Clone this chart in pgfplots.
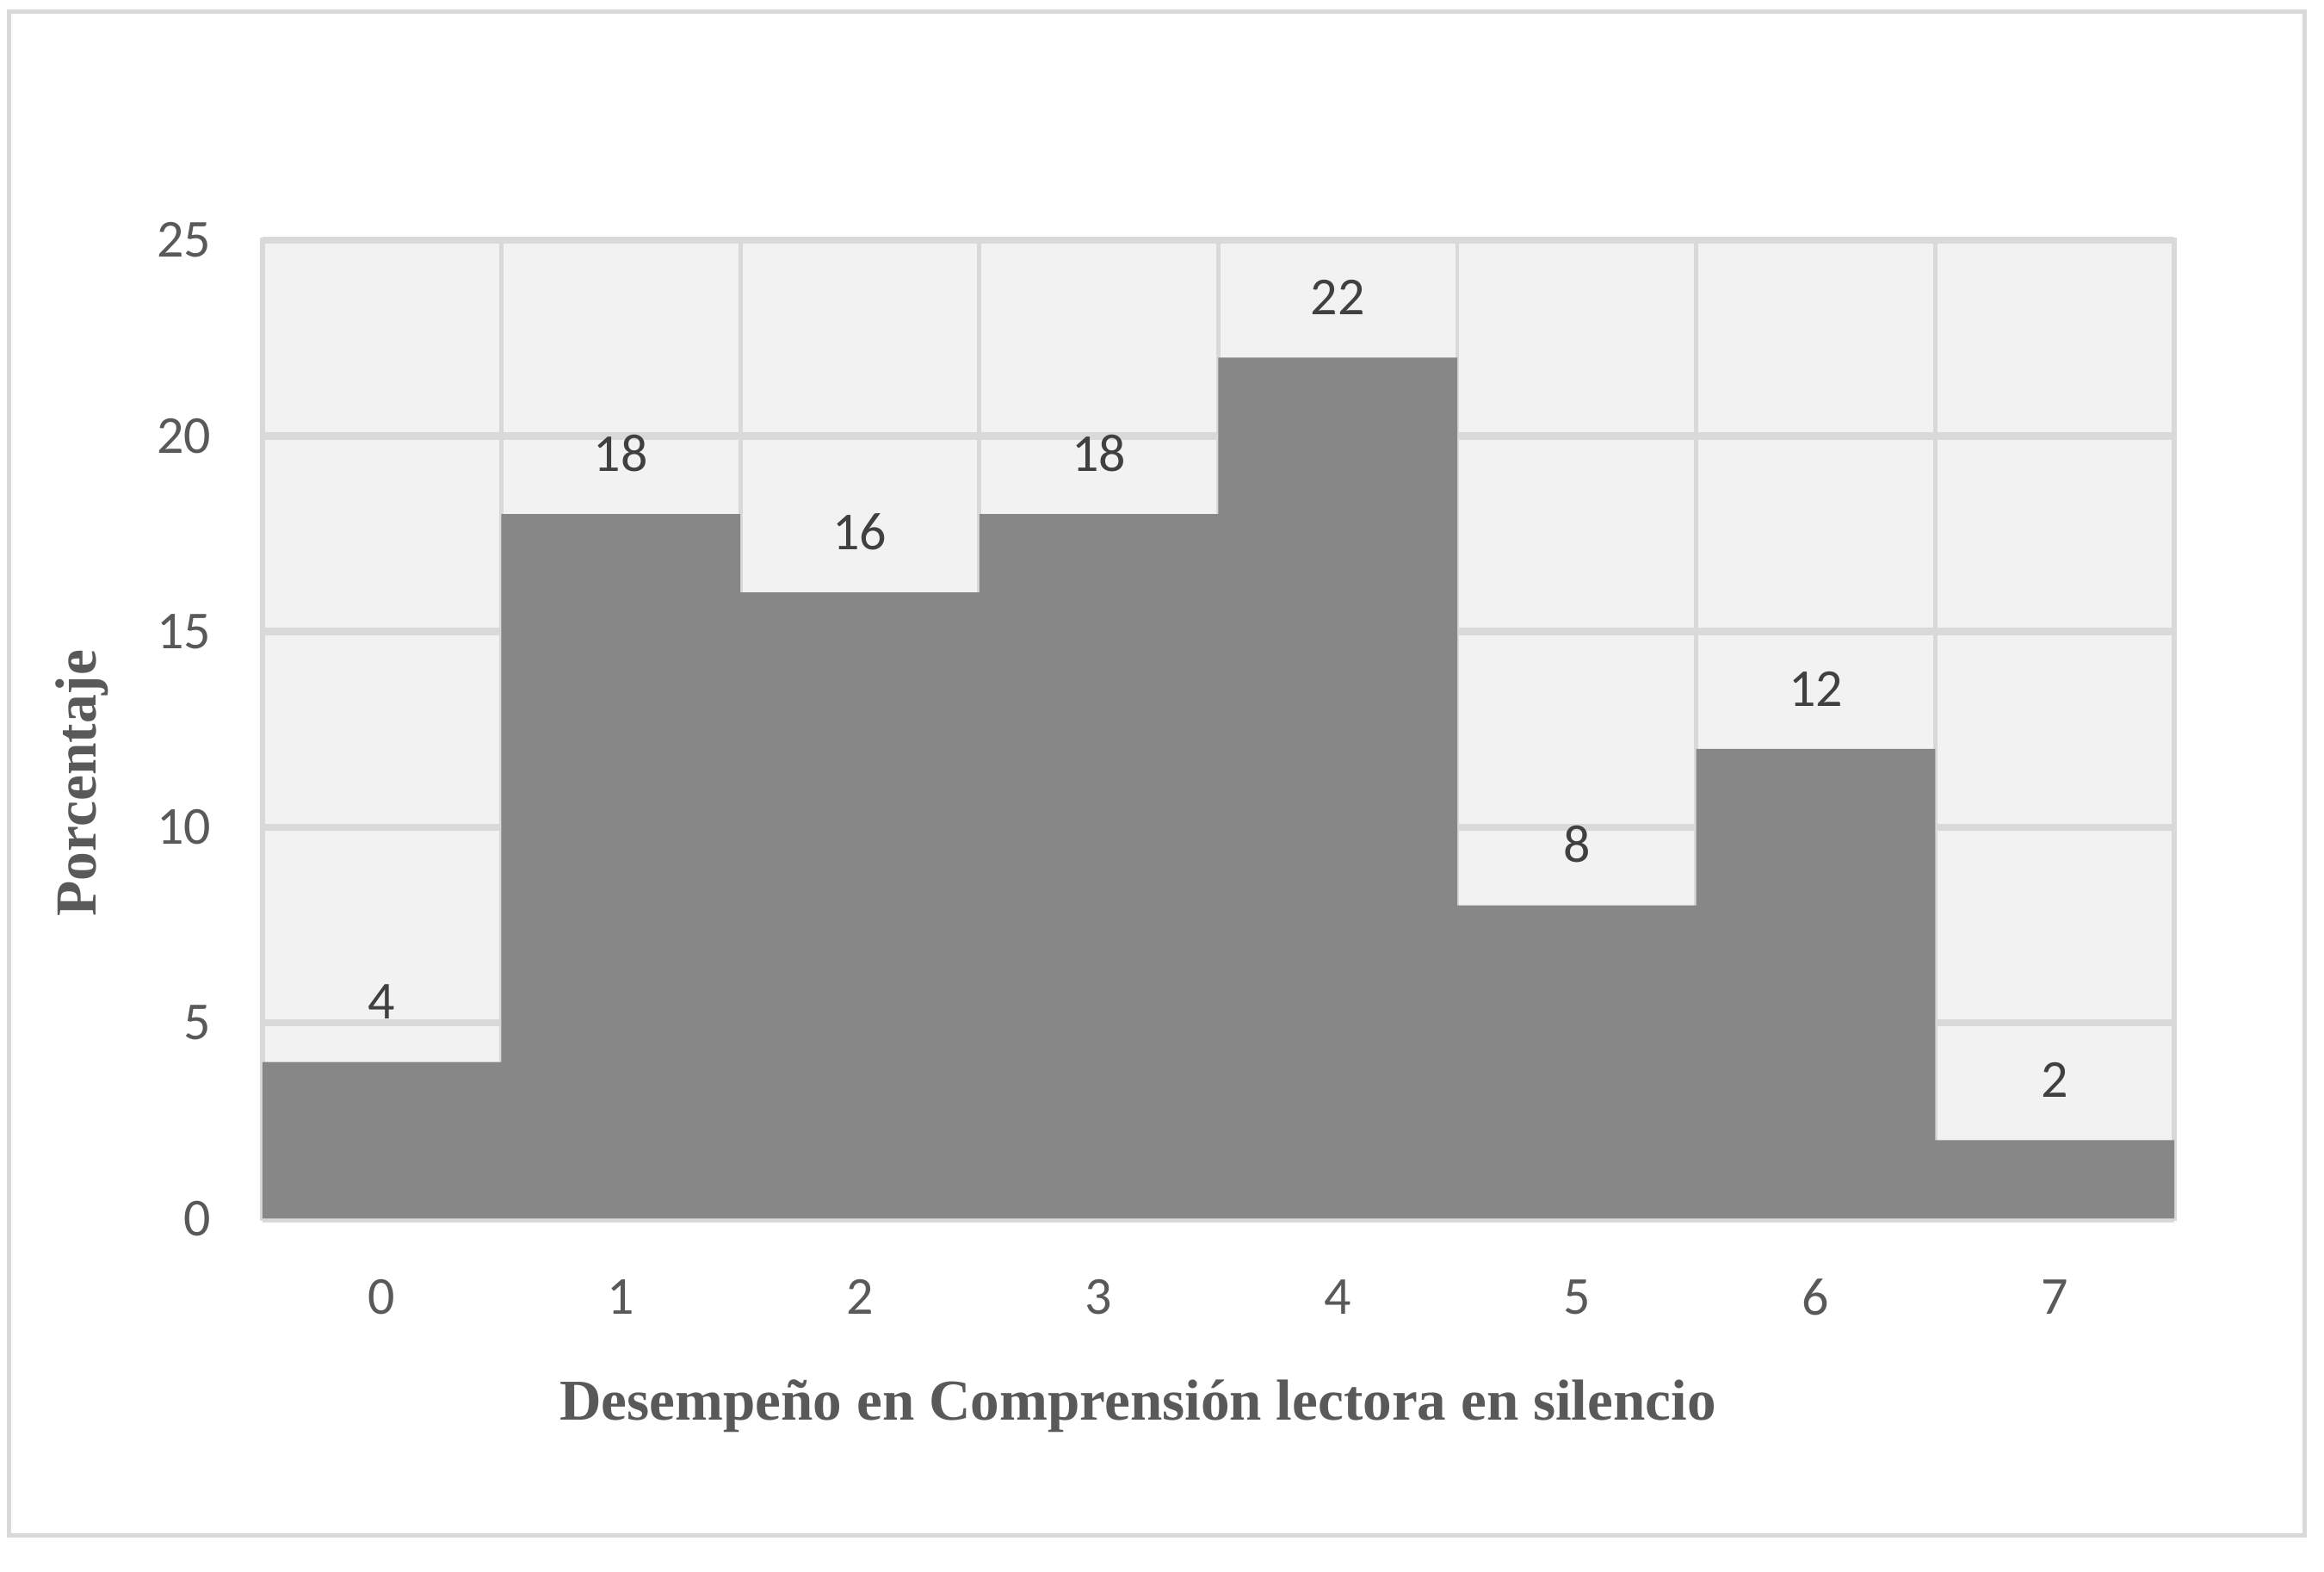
\documentclass[border=0pt]{standalone}
\usepackage{fontspec}
\setmainfont{Carlito}
\newfontfamily\timesf{Liberation Serif}
\usepackage{pgfplots}
\pgfplotsset{compat=1.18}
\definecolor{barc}{HTML}{878787}
\definecolor{gridc}{HTML}{D9D9D9}
\definecolor{bgc}{HTML}{F2F2F2}
\definecolor{tickc}{HTML}{595959}
\definecolor{labc}{HTML}{404040}
\begin{document}
\begin{tikzpicture}
\path[use as bounding box] (0,0) rectangle (392pt,265pt);
\draw[gridc, line width=0.7pt] (1.5pt,6pt) rectangle (388.75pt,263pt);
\begin{axis}[
  at={(44.25pt,59.5pt)}, anchor=south west,
  width=322.5pt, height=165pt, scale only axis,
  xmin=-0.5, xmax=7.5, ymin=0, ymax=25,
  xtick={0,1,2,3,4,5,6,7},
  minor xtick={0.5,1.5,2.5,3.5,4.5,5.5,6.5},
  ytick={0,5,10,15,20,25},
  xminorgrids=true, ymajorgrids=true,
  minor grid style={gridc, line width=0.7pt},
  major grid style={gridc, line width=1.25pt},
  axis line style={gridc, line width=0.8pt},
  major tick length=0pt, minor tick length=0pt,
  axis background/.style={fill=bgc},
  /pgf/number format/assume math mode=true,
  xticklabel style={font=\fontsize{9}{10}\selectfont, color=tickc, inner sep=0pt, anchor=center, yshift=-13.25pt},
  yticklabel style={font=\fontsize{9}{10}\selectfont, color=tickc, inner sep=0pt, anchor=east, xshift=-8.5pt},
  xlabel={Desempeño en Comprensión lectora en silencio},
  ylabel={Porcentaje},
  xlabel style={font=\timesf\bfseries\fontsize{9.75}{11}\selectfont, color=tickc, at={([yshift=-34pt]axis description cs:0.458,0)}, anchor=base},
  ylabel style={font=\timesf\bfseries\fontsize{9.8}{11}\selectfont, color=tickc, at={([xshift=-28pt]axis description cs:0,0.445)}, anchor=base, rotate=0},
  ybar, bar width=1, bar shift=0pt,
  nodes near coords,
  every node near coord/.append style={font=\fontsize{9}{10}\selectfont, color=labc, anchor=south, inner sep=0pt, yshift=7pt},
]
\addplot[draw=none, fill=barc] coordinates {(0,4) (1,18) (2,16) (3,18) (4,22) (5,8) (6,12) (7,2)};
\end{axis}
\end{tikzpicture}
\end{document}
